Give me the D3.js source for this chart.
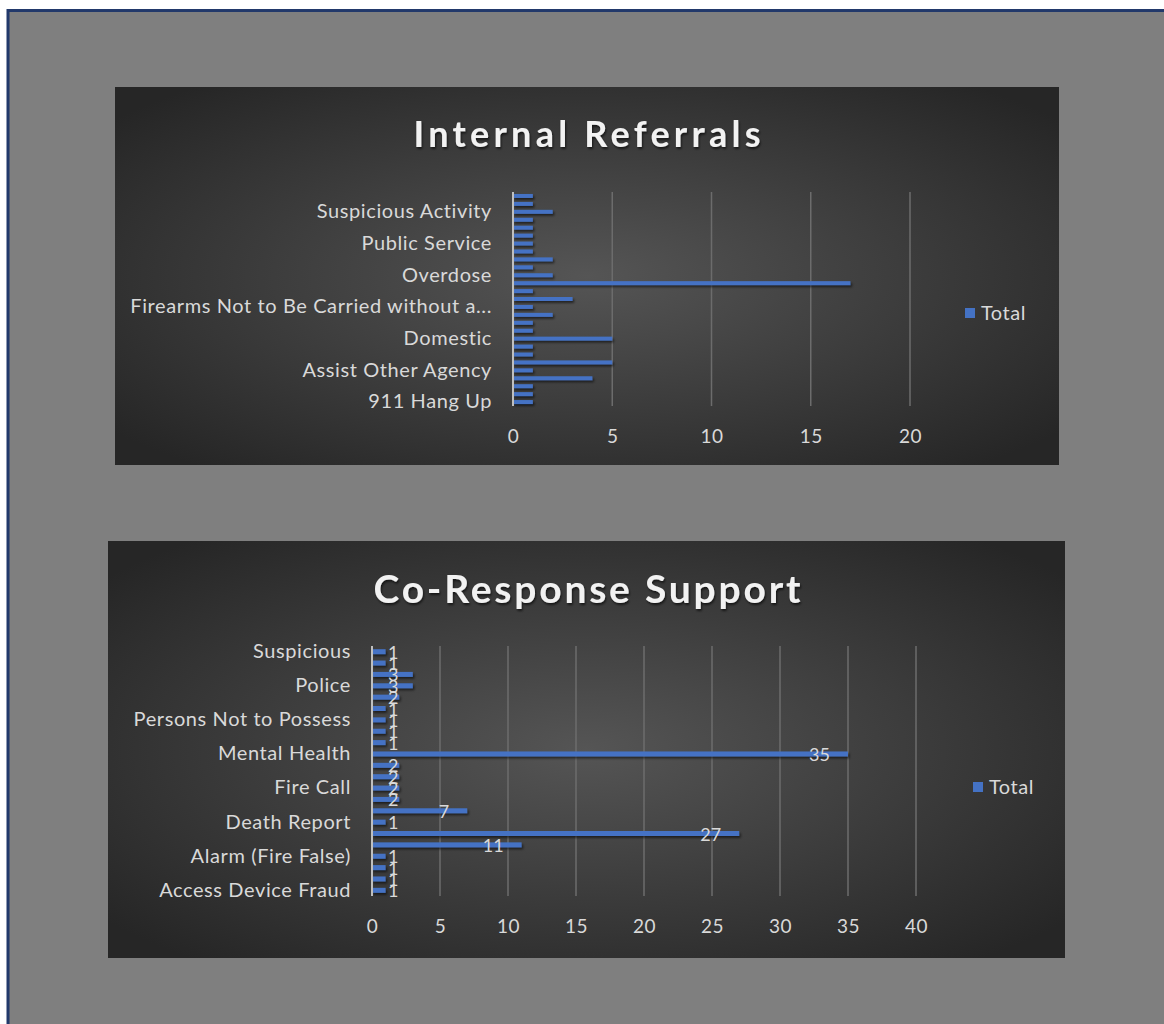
<!DOCTYPE html>
<html>
<head>
<meta charset="utf-8">
<script src="https://cdn.jsdelivr.net/npm/d3@7"></script>
<style>
  body { margin: 0; background: #ffffff; }
  text { font-family: Lato, "Open Sans", sans-serif; }
</style>
</head>
<body>
<div id="chart"></div>
<script>
// Internal Referrals (bottom to top, as Excel lists them). Only every 4th name shows on the axis;
// the hidden ones are placeholders kept in alphabetical order.
var referralCategories = ["911 Hang Up", "Abandoned Vehicle", "Alarm", "Assault",
    "Assist Other Agency", "Check Welfare", "Civil Matter", "Disturbance",
    "Domestic", "Drug Activity", "Family Offense", "Fight",
    "Firearms Not to Be Carried without a License", "Harassment", "Juvenile Complaint", "Mental Health",
    "Overdose", "Panhandling", "Person in Crisis", "Property Check",
    "Public Service", "Runaway", "Shoplifting", "Suicide Attempt",
    "Suspicious Activity", "Theft", "Trespass"];
var referralValues = [1, 1, 1, 4, 1, 5, 1, 1, 5, 1, 1, 2, 1, 3, 1, 17, 2, 1, 2, 1, 1, 1, 1, 1, 2, 1, 1];
var referralTicks = [0, 5, 10, 15, 20];

// Co-Response Support (bottom to top), every 3rd name shows
var coCategories = ["Access Device Fraud", "Accident", "Alarm (Burglar)",
    "Alarm (Fire False)", "Assault", "Assist Other Agency",
    "Death Report", "Disturbance", "Domestic",
    "Fire Call", "Harassment", "Medical",
    "Mental Health", "Missing Person", "Overdose",
    "Persons Not to Possess", "Petit Larceny", "Phone Call",
    "Police", "Public Service", "Shots Fired",
    "Suspicious"];
var coValues = [1, 1, 1, 1, 11, 27, 1, 7, 2, 2, 2, 2, 35, 1, 1, 1, 1, 2, 3, 3, 1, 1];
var coTicks = [0, 5, 10, 15, 20, 25, 30, 35, 40];

var W = 1164, H = 1024;
var svg = d3.select("#chart").append("svg")
    .attr("width", W).attr("height", H);

var defs = svg.append("defs");
var grad = defs.append("radialGradient")
    .attr("id", "bg").attr("cx", "50%").attr("cy", "50%").attr("r", "65%");
grad.append("stop").attr("offset", "0%").attr("stop-color", "#555555");
grad.append("stop").attr("offset", "100%").attr("stop-color", "#262626");

var sh = defs.append("filter").attr("id", "shadow")
    .attr("x", "-10%").attr("y", "-50%").attr("width", "130%").attr("height", "250%");
sh.append("feDropShadow").attr("dx", 1.5).attr("dy", 2).attr("stdDeviation", 1.2)
    .attr("flood-color", "#000").attr("flood-opacity", 0.55);

var tsh = defs.append("filter").attr("id", "tshadow");
tsh.append("feDropShadow").attr("dx", 1).attr("dy", 2).attr("stdDeviation", 1.2)
    .attr("flood-color", "#000").attr("flood-opacity", 0.6);

// page background with its dark blue frame
svg.append("rect")
    .attr("x", 8).attr("y", 10.5).attr("width", W + 20).attr("height", H + 20)
    .attr("fill", "#7f7f7f").attr("stroke", "#22396b").attr("stroke-width", 3);

function drawChart(cfg) {
    var g = svg.append("g");

    g.append("rect")
        .attr("x", cfg.box[0]).attr("y", cfg.box[1])
        .attr("width", cfg.box[2]).attr("height", cfg.box[3])
        .attr("fill", "url(#bg)");

    g.append("text")
        .attr("x", cfg.titleX).attr("y", cfg.titleY)
        .attr("text-anchor", "middle")
        .attr("font-size", cfg.titleSize).attr("font-weight", "bold")
        .attr("fill", "#f2f2f2")
        .attr("textLength", cfg.titleWidth).attr("lengthAdjust", "spacing")
        .attr("filter", "url(#tshadow)")
        .text(cfg.title);

    var x = d3.scaleLinear()
        .domain([0, cfg.xMax])
        .range([cfg.plot.left, cfg.plot.right]);

    var y = d3.scaleBand()
        .domain(cfg.categories)
        .range([cfg.plot.bottom, cfg.plot.top]);

    // gridlines
    g.selectAll(".grid")
        .data(cfg.ticks.slice(1))
        .enter().append("line")
        .attr("x1", function(d) { return x(d); })
        .attr("x2", function(d) { return x(d); })
        .attr("y1", cfg.plot.top).attr("y2", cfg.plot.bottom)
        .attr("stroke", "#6c6c6c").attr("stroke-width", 1.5);

    // x axis labels
    var xAxis = g.append("g")
        .attr("transform", "translate(0," + cfg.plot.bottom + ")")
        .call(d3.axisBottom(x).tickValues(cfg.ticks).tickSize(0).tickPadding(cfg.tickPad));
    xAxis.select(".domain").remove();
    xAxis.selectAll("text")
        .attr("font-size", 19).attr("fill", "#d9d9d9")
        .style("font-family", "Lato, sans-serif")
        .style("letter-spacing", "0.5px");

    // y axis labels, only every n-th category
    var shown = cfg.categories.filter(function(d, i) { return i % cfg.labelEvery == 0; });
    var yAxis = g.append("g")
        .attr("transform", "translate(" + cfg.plot.left + ",0)")
        .call(d3.axisLeft(y).tickValues(shown).tickSize(0).tickPadding(cfg.labelPad)
            .tickFormat(function(d) { return d.length > 36 ? d.slice(0, 36) + "..." : d; }));
    yAxis.select(".domain").remove();
    yAxis.selectAll("text")
        .attr("font-size", 20).attr("fill", "#d9d9d9")
        .style("font-family", "Lato, sans-serif")
        .style("letter-spacing", "0.6px");

    var data = cfg.categories.map(function(c, i) { return {label: c, value: cfg.values[i]}; });

    // bars
    g.selectAll(".bar")
        .data(data)
        .enter().append("rect")
        .attr("x", x(0))
        .attr("y", function(d) { return y(d.label) + (y.bandwidth() - cfg.barH) / 2; })
        .attr("width", function(d) { return x(d.value) - x(0); })
        .attr("height", cfg.barH)
        .attr("fill", "#4472c4")
        .attr("filter", "url(#shadow)");

    // vertical axis line
    g.append("line")
        .attr("x1", x(0)).attr("x2", x(0))
        .attr("y1", cfg.plot.top).attr("y2", cfg.plot.bottom)
        .attr("stroke", "#bfbfbf").attr("stroke-width", 2);

    if (cfg.dataLabels) {
        g.selectAll(".lbl")
            .data(data)
            .enter().append("text")
            .attr("font-size", 18).attr("fill", "#d9d9d9")
            .attr("y", function(d) { return y(d.label) + y.bandwidth() / 2 + 7; })
            .text(function(d) { return d.value; })
            .attr("x", function(d) {
                var w = this.getComputedTextLength();
                return Math.max(x(d.value) - 18 - w, x(0) + 16);
            });
    }

    // legend
    g.append("rect")
        .attr("x", cfg.legend[0]).attr("y", cfg.legend[1] - 12)
        .attr("width", 10).attr("height", 10)
        .attr("fill", "#4472c4");
    g.append("text")
        .attr("x", cfg.legend[0] + 16).attr("y", cfg.legend[1])
        .attr("font-size", 20).attr("fill", "#d9d9d9")
        .style("letter-spacing", "0.5px")
        .text("Total");
}

drawChart({
    box: [115, 87, 944, 378],
    title: "Internal Referrals", titleX: 587, titleY: 147, titleSize: 36, titleWidth: 347,
    categories: referralCategories, values: referralValues, ticks: referralTicks, xMax: 20,
    plot: {left: 513, right: 910, top: 192, bottom: 406},
    labelEvery: 4, labelPad: 21, tickPad: 24, barH: 4,
    dataLabels: false,
    legend: [965, 320]
});

drawChart({
    box: [108, 541, 957, 417],
    title: "Co-Response Support", titleX: 587, titleY: 603, titleSize: 39, titleWidth: 427,
    categories: coCategories, values: coValues, ticks: coTicks, xMax: 40,
    plot: {left: 372, right: 916, top: 646, bottom: 896},
    labelEvery: 3, labelPad: 21, tickPad: 24, barH: 5,
    dataLabels: true,
    legend: [973, 794]
});
</script>
</body>
</html>
